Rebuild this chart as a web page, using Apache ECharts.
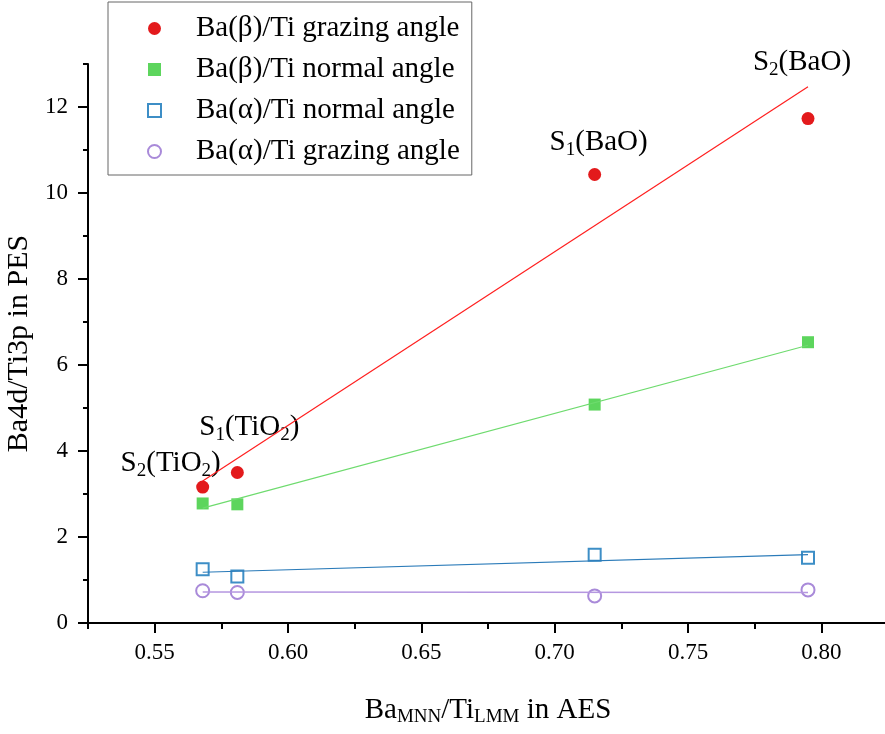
<!DOCTYPE html>
<html>
<head>
<meta charset="utf-8">
<script src="https://cdn.jsdelivr.net/npm/echarts@6/dist/echarts.min.js"></script>
<style>html,body{margin:0;padding:0;background:#fff;}#c{width:885px;height:734px;}</style>
</head>
<body>
<div id="c"></div>
<script>
// ---- data ----
const xVals = [0.568, 0.581, 0.715, 0.795];
const betaGrazing = [3.16, 3.50, 10.43, 11.73];
const betaNormal = [2.78, 2.76, 5.08, 6.53];
const alphaNormal = [1.25, 1.08, 1.59, 1.52];
const alphaGrazing = [0.75, 0.71, 0.63, 0.77];
// linear-fit lines, endpoints
const fitX = [0.568, 0.795];
const fitBetaGrazing = [3.30, 12.47];
const fitBetaNormal = [2.67, 6.46];
const fitAlphaNormal = [1.18, 1.59];
const fitAlphaGrazing = [0.72, 0.71];
const xMajorTicks = [0.55, 0.60, 0.65, 0.70, 0.75, 0.80];
const xMinorTicks = [0.525, 0.575, 0.625, 0.675, 0.725, 0.775, 0.825];
const yMajorTicks = [0, 2, 4, 6, 8, 10, 12];
const yMinorTicks = [1, 3, 5, 7, 9, 11, 13];
const seriesNames = ['Ba(β)/Ti grazing angle', 'Ba(β)/Ti normal angle', 'Ba(α)/Ti normal angle', 'Ba(α)/Ti grazing angle'];
const pointNotes = ['{m|S}{s|2}{m|(TiO}{s|2}{m|)}', '{m|S}{s|1}{m|(TiO}{s|2}{m|)}', '{m|S}{s|1}{m|(BaO)}', '{m|S}{s|2}{m|(BaO)}'];

const FONT = '"Liberation Serif", "DejaVu Serif", serif';
const noteOffsets = [[-32, -24], [12, -45], [4, -32], [-6, -56]];
const rich = {
  m: { fontFamily: FONT, fontSize: 29, lineHeight: 34, color: '#000' },
  s: { fontFamily: FONT, fontSize: 19, lineHeight: 18, verticalAlign: 'bottom', color: '#000' }
};
const pairs = (xs, ys) => xs.map((x, i) => [x, ys[i]]);

const chart = echarts.init(document.getElementById('c'), null, { renderer: 'canvas' });
const axisLineStyle = { color: '#000', width: 2 };
chart.setOption({
  animation: false,
  backgroundColor: '#fff',
  grid: { left: 88, top: 64, right: -3, bottom: 111, containLabel: false, outerBoundsMode: 'none' },
  legend: {
    data: seriesNames,
    orient: 'vertical',
    left: 108, top: 2,
    padding: [12, 12, 9, 39],
    itemGap: 12,
    itemWidth: 13, itemHeight: 13,
    borderColor: '#666', borderWidth: 1,
    backgroundColor: '#fff',
    textStyle: { fontFamily: FONT, fontSize: 29, color: '#000', lineHeight: 28.5, padding: [0, 0, 0, 30] }
  },
  xAxis: [{
    type: 'value', min: 0.525, max: 0.825, gridIndex: 0,
    name: '{m|Ba}{s|MNN}{m|/Ti}{s|LMM}{m| in AES}',
    nameLocation: 'middle', nameGap: 70,
    nameTextStyle: { rich: rich },
    axisLine: { show: true, onZero: false, lineStyle: axisLineStyle },
    axisTick: { show: true, length: 10, inside: false, customValues: xMajorTicks, lineStyle: { color: '#000', width: 2 } },
    axisLabel: { show: true, margin: 18, customValues: xMajorTicks, fontFamily: FONT, fontSize: 23, color: '#000',
      formatter: v => Number(v).toFixed(2) },
    splitLine: { show: false }
  }, {
    type: 'value', min: 0.525, max: 0.825, gridIndex: 0, position: 'bottom',
    axisLine: { show: false, onZero: false },
    axisTick: { show: true, length: 6, inside: false, customValues: xMinorTicks, lineStyle: { color: '#000', width: 2 } },
    axisLabel: { show: false },
    splitLine: { show: false }
  }],
  yAxis: [{
    type: 'value', min: 0, max: 13, gridIndex: 0,
    name: 'Ba4d/Ti3p in PES',
    nameLocation: 'middle', nameGap: 45,
    nameTextStyle: { fontFamily: FONT, fontSize: 30, color: '#000' },
    axisLine: { show: true, onZero: false, lineStyle: axisLineStyle },
    axisTick: { show: true, length: 10, inside: false, customValues: yMajorTicks, lineStyle: { color: '#000', width: 2 } },
    axisLabel: { show: true, margin: 20, customValues: yMajorTicks, fontFamily: FONT, fontSize: 23, color: '#000' },
    splitLine: { show: false }
  }, {
    type: 'value', min: 0, max: 13, gridIndex: 0, position: 'left',
    axisLine: { show: false, onZero: false },
    axisTick: { show: true, length: 5, inside: false, customValues: yMinorTicks, lineStyle: { color: '#000', width: 2 } },
    axisLabel: { show: false },
    splitLine: { show: false }
  }],
  series: [
    {
      name: seriesNames[0], type: 'scatter', symbol: 'circle', symbolSize: 13,
      itemStyle: { color: '#e31a1c', opacity: 1 },
      data: pairs(xVals, betaGrazing).map((p, i) => ({
        value: p,
        label: {
          show: true, position: 'inside', offset: noteOffsets[i],
          formatter: pointNotes[i], rich: rich, align: 'center', verticalAlign: 'middle',
          color: '#000', opacity: 1, textBorderWidth: 0, textBorderColor: 'transparent', textShadowBlur: 0
        }
      })),
      z: 3
    },
    { name: seriesNames[1], type: 'scatter', symbol: 'rect', symbolSize: 12, itemStyle: { color: '#5dd55d', opacity: 1 }, data: pairs(xVals, betaNormal), z: 3 },
    { name: seriesNames[2], type: 'scatter', symbol: 'emptyRect', symbolSize: 12, itemStyle: { color: '#3d8ec6', borderWidth: 1.3, opacity: 1 }, data: pairs(xVals, alphaNormal), z: 3 },
    { name: seriesNames[3], type: 'scatter', symbol: 'emptyCircle', symbolSize: 13, itemStyle: { color: '#a98ad9', borderWidth: 1.3, opacity: 1 }, data: pairs(xVals, alphaGrazing), z: 3 },
    { name: 'fit1', type: 'line', showSymbol: false, symbol: 'none', data: pairs(fitX, fitBetaGrazing), lineStyle: { color: '#ff1f1f', width: 1.2 }, z: 4 },
    { name: 'fit2', type: 'line', showSymbol: false, symbol: 'none', data: pairs(fitX, fitBetaNormal), lineStyle: { color: '#6edb6e', width: 1.2 }, z: 4 },
    { name: 'fit3', type: 'line', showSymbol: false, symbol: 'none', data: pairs(fitX, fitAlphaNormal), lineStyle: { color: '#2b7bb9', width: 1.2 }, z: 4 },
    { name: 'fit4', type: 'line', showSymbol: false, symbol: 'none', data: pairs(fitX, fitAlphaGrazing), lineStyle: { color: '#b597e0', width: 1.4 }, z: 4 }
  ]
});
</script>
</body>
</html>
